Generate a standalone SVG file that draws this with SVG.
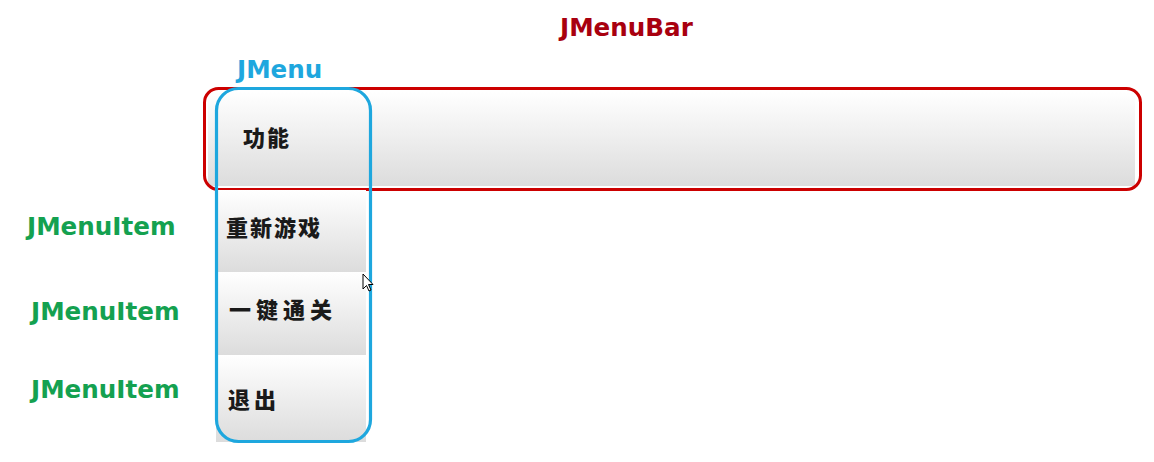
<svg xmlns="http://www.w3.org/2000/svg" width="1154" height="462" viewBox="0 0 1154 462">
<defs>
<linearGradient id="g" x1="0" y1="0" x2="0" y2="1">
<stop offset="0" stop-color="#ffffff"/>
<stop offset="1" stop-color="#dcdcdc"/>
</linearGradient>
</defs>
<style>
.lbl{font-family:"DejaVu Sans","Verdana",sans-serif;font-weight:bold;font-size:24.6px}
.cn{font-family:"Noto Sans CJK SC",sans-serif;font-weight:900;font-size:22px;fill:#1a1a1a}
.bar{fill:none;stroke:#cc0000;stroke-width:3}
.menu{fill:none;stroke:#1ea7de;stroke-width:3.2}
</style>
<rect width="1154" height="462" fill="#ffffff"/>
<g id="menubar">
<rect x="208" y="92" width="927" height="94" fill="url(#g)"/>
<rect x="204.5" y="88.5" width="936" height="101" rx="14" class="bar"/>
<text x="560" y="36" class="lbl" fill="#a8000f">JMenuBar</text>
</g>
<g id="menu">
<rect x="216" y="92" width="150" height="94" fill="url(#g)"/>
<text x="243" y="146" class="cn" style="letter-spacing:2px">功能</text>
<text x="237" y="78" class="lbl" fill="#1ea7de">JMenu</text>
</g>
<g id="item1">
<rect x="216" y="190" width="150" height="82" fill="url(#g)"/>
<text x="226" y="236" class="cn" style="letter-spacing:2px">重新游戏</text>
<text x="27" y="235" class="lbl" fill="#14a150">JMenuItem</text>
</g>
<g id="item2">
<rect x="216" y="272" width="150" height="83" fill="url(#g)"/>
<text x="229" y="318" class="cn" style="letter-spacing:5px">一键通关</text>
<text x="31" y="320" class="lbl" fill="#14a150">JMenuItem</text>
</g>
<g id="item3">
<rect x="216" y="355" width="150" height="87" fill="url(#g)"/>
<text x="228" y="408" class="cn" style="letter-spacing:4px">退出</text>
<text x="31" y="398" class="lbl" fill="#14a150">JMenuItem</text>
</g>
<g id="connectors">
<rect x="216.5" y="88.5" width="154" height="353" rx="22" class="menu"/>
</g>
<path d="M363 274 L363 289 L366.5 285.5 L369 291 L371 290 L368.5 284.5 L373 284.5 Z" fill="#ffffff" stroke="#000" stroke-width="1"/>
</svg>
